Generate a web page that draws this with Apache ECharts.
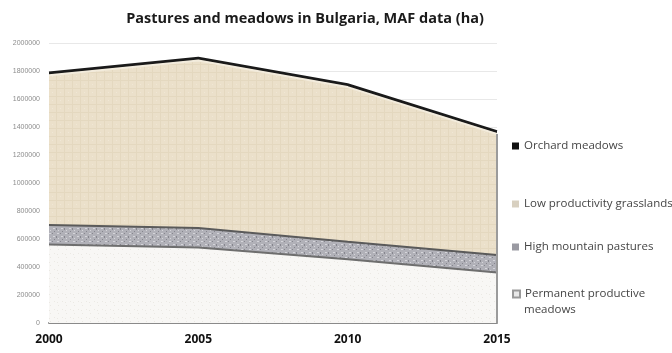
<!DOCTYPE html>
<html><head><meta charset="utf-8">
<script src="https://cdn.jsdelivr.net/npm/echarts@6/dist/echarts.min.js"></script>
<style>html,body{margin:0;padding:0;background:#fff}#c{width:672px;height:353px}</style>
</head><body><div id="c"></div>
<script>
const years = ['2000','2005','2010','2015'];
const permanentMeadows = [560000, 540000, 455000, 360000];
const highMountain = [140000, 138000, 125000, 126000];
const lowProductivity = [1070000, 1197000, 1105000, 864000];
const orchardMeadows = [20000, 20000, 20000, 20000];
const yTicks = {min: 0, max: 2000000, step: 200000};

function pattern(kind){
  const c = document.createElement('canvas');
  c.width = 8; c.height = 8;
  const g = c.getContext('2d');
  if (kind === 'beige'){
    g.fillStyle = '#ebe0ca'; g.fillRect(0,0,8,8);
    g.fillStyle = '#e4d8bf'; g.fillRect(0,0,8,1); g.fillRect(0,0,1,8);
    g.fillStyle = '#f0e7d5'; g.fillRect(4,4,1,1);
  } else if (kind === 'gray'){
    g.fillStyle = '#b1b1b8'; g.fillRect(0,0,8,8);
    g.fillStyle = '#d5d5da'; g.fillRect(1,1,2,1); g.fillRect(5,4,2,1); g.fillRect(2,6,1,1);
    g.fillStyle = '#86868e'; g.fillRect(4,1,1,1); g.fillRect(0,4,1,2); g.fillRect(6,7,1,1);
  } else {
    g.fillStyle = '#f8f7f5'; g.fillRect(0,0,8,8);
    g.fillStyle = '#ebe9e4'; g.fillRect(2,1,1,1); g.fillRect(6,5,1,1); g.fillRect(1,6,1,1);
  }
  return {image: c, repeat: 'repeat'};
}

const chart = echarts.init(document.getElementById('c'));
const legendText = {color:'#454545', fontSize: 11.5, fontFamily: 'Open Sans', lineHeight: 18};
const legendBase = {orient:'vertical', left: 507, itemWidth: 7, itemHeight: 7, icon: 'rect',
  textStyle: legendText};
chart.setOption({
  animation: false,
  title: {text: 'Pastures and meadows in Bulgaria, MAF data (ha)', left: 300, textAlign: 'center', top: 6,
    textStyle: {fontSize: 14.5, fontWeight: 'bold', color: '#1a1a1a', fontFamily: 'Open Sans'}},
  legend: [
    Object.assign({}, legendBase, {top: 132, data: ['Orchard meadows']}),
    Object.assign({}, legendBase, {top: 190, data: ['Low productivity grasslands']}),
    Object.assign({}, legendBase, {top: 233, data: ['High mountain pastures']}),
    Object.assign({}, legendBase, {top: 280, data: ['Permanent productive meadows'],
      formatter: n => n === 'Permanent productive meadows' ? 'Permanent productive' : n})
  ],
  graphic: [{type: 'text', left: 524, top: 304,
    style: {text: 'meadows', fill: legendText.color, fontSize: legendText.fontSize, fontFamily: legendText.fontFamily}}],
  grid: {left: 49, right: 175, top: 43, bottom: 30},
  xAxis: {type: 'category', data: years, boundaryGap: false,
    axisLine: {lineStyle: {color: '#8a8a8a', width: 2}}, axisTick: {show: false},
    axisLabel: {color: '#111', fontWeight: 'bold', fontSize: 12, fontFamily: 'Open Sans', margin: 11}},
  yAxis: {type: 'value', min: yTicks.min, max: yTicks.max, interval: yTicks.step,
    axisLine: {show: false}, axisTick: {show: false},
    splitLine: {lineStyle: {color: '#e8e8e8', width: 1}},
    axisLabel: {color: '#8c8c8c', fontSize: 7, fontFamily: 'Liberation Sans', margin: 9,
      formatter: v => String(v)}},
  series: [
    {name: 'Permanent productive meadows', type: 'line', stack: 't', data: permanentMeadows,
      symbol: 'none', lineStyle: {color: '#6e6e6e', width: 2},
      areaStyle: {color: pattern('white'), opacity: 1}, itemStyle: {color: '#e8e8e8', borderColor:'#999', borderWidth:1},
      z: 3},
    {name: 'High mountain pastures', type: 'line', stack: 't', data: highMountain,
      symbol: 'none', lineStyle: {color: '#5a5a5a', width: 2},
      areaStyle: {color: pattern('gray'), opacity: 1}, itemStyle: {color: '#9a9aa2'}},
    {name: 'Low productivity grasslands', type: 'line', stack: 't', data: lowProductivity,
      symbol: 'none', lineStyle: {color: '#f3ecdd', width: 2},
      areaStyle: {color: pattern('beige'), opacity: 1}, itemStyle: {color: '#d8d0c0'}},
    {name: 'Orchard meadows', type: 'line', stack: 't', data: orchardMeadows,
      symbol: 'none', lineStyle: {color: '#1a1a1a', width: 2},
      areaStyle: {color: '#1a1a1a', opacity: 1}, itemStyle: {color: '#111'}},
    {name: 'edge', type: 'line', data: [], silent: true, z: 5,
      markLine: {symbol: 'none', silent: true, label: {show: false},
        lineStyle: {color: '#9b9b9b', width: 2, type: 'solid'},
        data: [[{coord: [years[3], 0]}, {coord: [years[3],
          permanentMeadows[3] + highMountain[3] + lowProductivity[3]]}]]}}
  ]
});
</script></body></html>
